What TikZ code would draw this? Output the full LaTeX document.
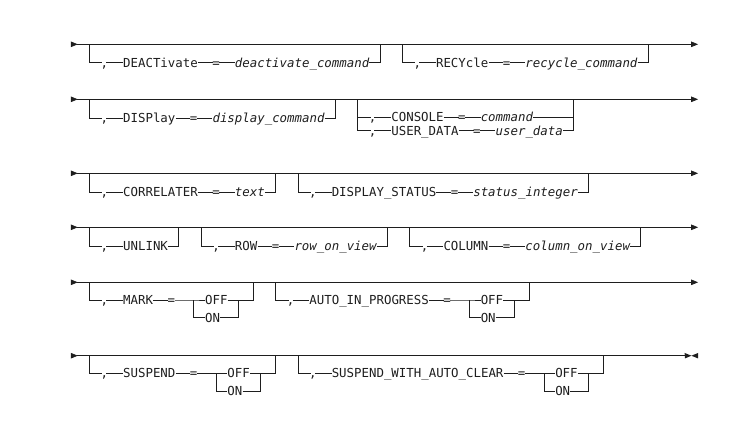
\documentclass[tikz,border=0pt]{standalone}
\usepackage{fontspec}
\setmonofont{DejaVu Sans Mono}
\usetikzlibrary{arrows.meta}
\definecolor{ink}{HTML}{1E1E1E}
\newcommand\rrf{\ttfamily\fontsize{12.4pt}{14pt}\selectfont}
\tikzset{
  kw/.style={font=\rrf, text=ink, inner xsep=0pt, inner ysep=0pt, text height=9pt, text depth=0pt, anchor=west},
  var/.style={kw, font=\rrf\itshape},
  sym/.style={kw, anchor=center, inner xsep=-2pt},
  eq/.style={kw, anchor=center, inner xsep=-0.6pt},
  ln/.style={draw=ink, line width=0.7pt},
  mainln/.style={ln, {Triangle[reversed,length=7pt,width=5.5pt]}-{Triangle[length=7pt,width=5.5pt]}},
}
\begin{document}
\begin{tikzpicture}[x=7.45pt, y=1pt]
\path[use as bounding box] (0pt,0pt) rectangle (751pt,-429pt);
\begin{scope}[xshift=70.8pt]
% ---------------- Row 1
\coordinate (s1) at (0,-44.3); \coordinate (e1) at (84.2,-44.3);
\draw[mainln] (s1) -- (e1);
\coordinate (a1l) at (2.5,-44.3); \coordinate (a1r) at (41.5,-44.3);
\node[sym] (a1c) at (4.5,-62.8) {,};
\node[kw]  (a1k) at (7,-62.8) {DEACTivate};
\node[eq]  (a1q) at (19.5,-62.8) {=};
\node[var] (a1v) at (22,-62.8) {deactivate\_command};
\draw[ln] (a1l) |- (a1c) -- (a1k) -- (a1q) -- (a1v) -| (a1r);
\coordinate (b1l) at (44.5,-44.3); \coordinate (b1r) at (77.5,-44.3);
\node[sym] (b1c) at (46.5,-62.8) {,};
\node[kw]  (b1k) at (49,-62.8) {RECYcle};
\node[eq]  (b1q) at (58.5,-62.8) {=};
\node[var] (b1v) at (61,-62.8) {recycle\_command};
\draw[ln] (b1l) |- (b1c) -- (b1k) -- (b1q) -- (b1v) -| (b1r);
% ---------------- Row 2
\coordinate (s2) at (0,-99.3); \coordinate (e2) at (84.2,-99.3);
\draw[mainln] (s2) -- (e2);
\coordinate (a2l) at (2.5,-99.3); \coordinate (a2r) at (35.5,-99.3);
\node[sym] (a2c) at (4.5,-118.3) {,};
\node[kw]  (a2k) at (7,-118.3) {DISPlay};
\node[eq]  (a2q) at (16.5,-118.3) {=};
\node[var] (a2v) at (19,-118.3) {display\_command};
\draw[ln] (a2l) |- (a2c) -- (a2k) -- (a2q) -- (a2v) -| (a2r);
\coordinate (b2l) at (38.5,-99.3); \coordinate (b2r) at (67.5,-99.3);
\node[sym] (b2c) at (40.5,-117.3) {,};
\node[kw]  (b2k) at (43,-117.3) {CONSOLE};
\node[eq]  (b2q) at (52.5,-117.3) {=};
\node[var] (b2v) at (55,-117.3) {command};
\node[sym] (c2c) at (40.5,-130.5) {,};
\node[kw]  (c2k) at (43,-130.5) {USER\_DATA};
\node[eq]  (c2q) at (54.5,-130.5) {=};
\node[var] (c2v) at (57,-130.5) {user\_data};
\draw[ln] (b2l) |- (c2c) -- (c2k) -- (c2q) -- (c2v) -| (b2r);
\draw[ln] (b2c -| b2l) -- (b2c) -- (b2k) -- (b2q) -- (b2v) -| (b2r);
% ---------------- Row 3
\coordinate (s3) at (0,-173.3); \coordinate (e3) at (84.2,-173.3);
\draw[mainln] (s3) -- (e3);
\coordinate (a3l) at (2.5,-173.3); \coordinate (a3r) at (27.5,-173.3);
\node[sym] (a3c) at (4.5,-192.3) {,};
\node[kw]  (a3k) at (7,-192.3) {CORRELATER};
\node[eq]  (a3q) at (19.5,-192.3) {=};
\node[var] (a3v) at (22,-192.3) {text};
\draw[ln] (a3l) |- (a3c) -- (a3k) -- (a3q) -- (a3v) -| (a3r);
\coordinate (b3l) at (30.5,-173.3); \coordinate (b3r) at (69.5,-173.3);
\node[sym] (b3c) at (32.5,-192.3) {,};
\node[kw]  (b3k) at (35,-192.3) {DISPLAY\_STATUS};
\node[eq]  (b3q) at (51.5,-192.3) {=};
\node[var] (b3v) at (54,-192.3) {status\_integer};
\draw[ln] (b3l) |- (b3c) -- (b3k) -- (b3q) -- (b3v) -| (b3r);
% ---------------- Row 4
\coordinate (s4) at (0,-227.3); \coordinate (e4) at (84.2,-227.3);
\draw[mainln] (s4) -- (e4);
\coordinate (a4l) at (2.5,-227.3); \coordinate (a4r) at (14.5,-227.3);
\node[sym] (a4c) at (4.5,-246) {,};
\node[kw]  (a4k) at (7,-246) {UNLINK};
\draw[ln] (a4l) |- (a4c) -- (a4k) -| (a4r);
\coordinate (b4l) at (17.5,-227.3); \coordinate (b4r) at (42.5,-227.3);
\node[sym] (b4c) at (19.5,-246) {,};
\node[kw]  (b4k) at (22,-246) {ROW};
\node[eq]  (b4q) at (27.5,-246) {=};
\node[var] (b4v) at (30,-246) {row\_on\_view};
\draw[ln] (b4l) |- (b4c) -- (b4k) -- (b4q) -- (b4v) -| (b4r);
\coordinate (c4l) at (45.5,-227.3); \coordinate (c4r) at (76.5,-227.3);
\node[sym] (c4c) at (47.5,-246) {,};
\node[kw]  (c4k) at (50,-246) {COLUMN};
\node[eq]  (c4q) at (58.5,-246) {=};
\node[var] (c4v) at (61,-246) {column\_on\_view};
\draw[ln] (c4l) |- (c4c) -- (c4k) -- (c4q) -- (c4v) -| (c4r);
% ---------------- Row 5
\coordinate (s5) at (0,-282.3); \coordinate (e5) at (84.2,-282.3);
\draw[mainln] (s5) -- (e5);
\coordinate (a5l) at (2.5,-282.3); \coordinate (a5r) at (24.5,-282.3);
\coordinate (a5f) at (16.5,-300); \coordinate (a5g) at (22.5,-300);
\node[sym] (a5c) at (4.5,-300) {,};
\node[kw]  (a5k) at (7,-300) {MARK};
\node[eq]  (a5q) at (13.5,-300) {=};
\node[kw]  (a5o) at (18,-300) {OFF};
\node[kw]  (a5n) at (18,-317.7) {ON};
\draw[ln] (a5l) |- (a5c) -- (a5k) -- (a5q) -- (a5f) -- (a5o) -| (a5r);
\draw[ln] (a5f) |- (a5n) -| (a5g);
\coordinate (b5l) at (27.5,-282.3); \coordinate (b5r) at (61.5,-282.3);
\coordinate (b5f) at (53.5,-300); \coordinate (b5g) at (59.5,-300);
\node[sym] (b5c) at (29.5,-300) {,};
\node[kw]  (b5k) at (32,-300) {AUTO\_IN\_PROGRESS};
\node[eq]  (b5q) at (50.5,-300) {=};
\node[kw]  (b5o) at (55,-300) {OFF};
\node[kw]  (b5n) at (55,-317.7) {ON};
\draw[ln] (b5l) |- (b5c) -- (b5k) -- (b5q) -- (b5f) -- (b5o) -| (b5r);
\draw[ln] (b5f) |- (b5n) -| (b5g);
% ---------------- Row 6
\coordinate (s6) at (0,-355.7); \coordinate (e6) at (82.4,-355.7);
\draw[ln, {Triangle[reversed,length=7pt,width=5.5pt]}-] (s6) -- (e6);
\coordinate (t6a) at (83.3,-355.7); \coordinate (t6b) at (84.2,-355.7);
\fill[ink] (e6) ++(0,2.75pt) -- (t6a) -- ++(-0.87,-2.75pt) -- cycle;
\fill[ink] (t6b) ++(0,2.75pt) -- (t6a) -- ++(0.9,-2.75pt) -- cycle;
\coordinate (x6a) at (72.4,-355.5); \coordinate (x6b) at (74.4,-355.5);
\draw[ln, line width=1.1pt] (x6a) -- (x6b);
\coordinate (a6l) at (2.5,-355.7); \coordinate (a6r) at (27.5,-355.7);
\coordinate (a6f) at (19.5,-373.3); \coordinate (a6g) at (25.5,-373.3);
\node[sym] (a6c) at (4.5,-373.3) {,};
\node[kw]  (a6k) at (7,-373.3) {SUSPEND};
\node[eq]  (a6q) at (16.5,-373.3) {=};
\node[kw]  (a6o) at (21,-373.3) {OFF};
\node[kw]  (a6n) at (21,-391) {ON};
\draw[ln] (a6l) |- (a6c) -- (a6k) -- (a6q) -- (a6f) -- (a6o) -| (a6r);
\draw[ln] (a6f) |- (a6n) -| (a6g);
\coordinate (b6l) at (30.5,-355.7); \coordinate (b6r) at (71.5,-355.7);
\coordinate (b6f) at (63.5,-373.3); \coordinate (b6g) at (69.5,-373.3);
\node[sym] (b6c) at (32.5,-373.3) {,};
\node[kw]  (b6k) at (35,-373.3) {SUSPEND\_WITH\_AUTO\_CLEAR};
\node[eq]  (b6q) at (60.5,-373.3) {=};
\node[kw]  (b6o) at (65,-373.3) {OFF};
\node[kw]  (b6n) at (65,-391) {ON};
\draw[ln] (b6l) |- (b6c) -- (b6k) -- (b6q) -- (b6f) -- (b6o) -| (b6r);
\draw[ln] (b6f) |- (b6n) -| (b6g);
\end{scope}
\end{tikzpicture}
\end{document}
